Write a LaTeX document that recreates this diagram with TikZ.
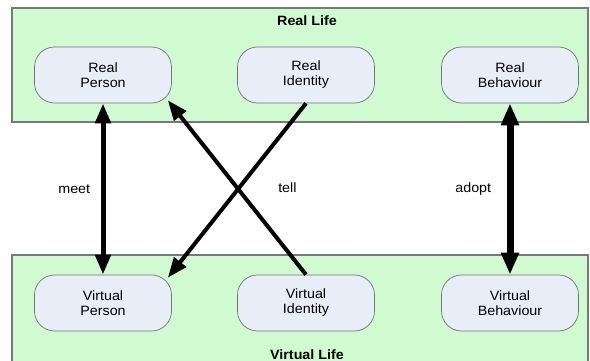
\documentclass[tikz,border=0pt]{standalone}
\usepackage{fontspec}
\setmainfont[FakeStretch=1.06]{Liberation Sans}
\usetikzlibrary{arrows.meta}

\definecolor{lifegreen}{RGB}{208,250,208}
\definecolor{boxblue}{RGB}{232,238,248}
\definecolor{rimgray}{RGB}{120,120,120}

\tikzset{
  life/.style={fill=lifegreen, draw=rimgray, line width=1.2pt},
  box/.style={draw=gray!90!black, line width=0.7pt, fill=boxblue, rounded corners=20pt,
    minimum width=137pt, minimum height=56pt, inner sep=0pt, align=center,
    font=\fontsize{13.5}{15}\selectfont},
  title/.style={font=\fontsize{13.5}{15}\selectfont\bfseries, inner sep=0pt, anchor=base},
  tag/.style={font=\fontsize{13.5}{15}\selectfont},
  link/.style={line width=4pt, -{Triangle[length=20pt,width=15pt]}}
}

\begin{document}
\begin{tikzpicture}[x=1pt, y=-1pt]
      \clip (0, 0) rectangle (590, 361);
      \useasboundingbox (0, 0) rectangle (590, 361);
      \draw[life] (12, 8) rectangle (588, 122);
      \draw[life] (12, 255) rectangle (588, 380);
      \node[title] (reallife) at (307, 26) {Real Life};
      \node[title] (virtlife) at (307, 359.5) {Virtual Life};
      \foreach \n/\x/\t in {person/103/Person, identity/306/Identity, behaviour/510/Behaviour}{
        \node[box] (real\n) at (\x, 75) {Real\\\t};
        \node[box] (virt\n) at (\x, 303) {Virtual\\\t};
      }
      \draw[link, line width=5pt, {Triangle[length=20pt,width=15pt]}-{Triangle[length=20pt,width=15pt]}]
        (realperson) -- (virtperson) node[tag, midway, left=7pt] (meet) {meet};
      \draw[link] (virtidentity.north) -- ([shift={(-4,-3)}]realperson.south east)
        node[tag, midway, right=36pt] (tell) {tell};
      \draw[link] (realidentity.south) -- ([shift={(-4,3)}]virtperson.north east);
      \draw[link, line width=7pt, {Triangle[length=22pt,width=17pt]}-{Triangle[length=22pt,width=17pt]}]
        (realbehaviour) -- (virtbehaviour) node[tag, midway, left=12pt] (adopt) {adopt};
    \end{tikzpicture}
\end{document}
